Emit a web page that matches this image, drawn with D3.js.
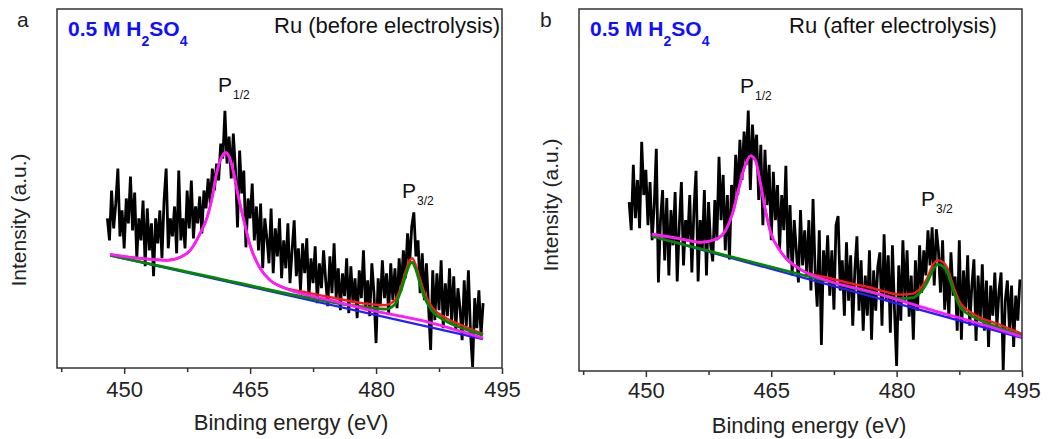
<!DOCTYPE html>
<html><head><meta charset="utf-8">
<script src="https://cdn.jsdelivr.net/npm/d3@7"></script>
<style>body{margin:0;background:#fff} svg{display:block;font-family:"Liberation Sans",Arial,sans-serif}</style>
</head><body><svg id="c" width="1048" height="439"></svg>
<script>
// ---------- data ----------
const xDomain = [442, 495];
const yDomain = [0, 360];
const xTicksMajor = [450, 465, 480, 495];
const xTicksMinor = [442.5, 457.5, 472.5, 487.5];
const xTitle = "Binding energy (eV)";
const yTitle = "Intensity (a.u.)";
const panelLetters = ["a", "b"];
const panelTitles = ["Ru (before electrolysis)", "Ru (after electrolysis)"];

// measured spectra (uniform 0.25 eV step)
const energyStartA = 448.0, energyStepA = 0.25;
const countsA = [
150,128,178,140, 165,200,132,158, 120,170,145,192, 138,176,110,150,
128,168,102,160, 118,145,92,150, 125,158,110,168, 200,120,150,132,
162,115,198,128, 150,120,178,140, 188,130,162,145, 172,135,178,160,
190,165,200,178, 205,188,225,210, 258,205,232,190, 235,200,141,218,
175,198,121,170, 150,185,128,162, 118,165,100,150, 130,105,160,95,
140,112,150,90, 128,100,145,85, 118,148,92,120, 78,125,95,130,
70,110,85,122, 65,105,80,118, 88,62,112,75, 125,70,100,58,
95,72,110,55, 102,65,90,50, 98,70,118,60, 88,52,105,75,
25,90,62,108, 70,95,55,105, 68,100,60,110, 78,118,90,135,
105,142,156,112, 128,75,115,68, 105,62,18,98, 48,95,58,108,
40,85,52,100, 45,92,38,80, 60,28,88,42, 98,35,1,70,
40,78,32,65];

const energyStartB = 448.0, energyStepB = 0.25;
const countsB = [
168,140,205,152, 190,142,228,175, 200,145,188,130, 165,221,88,150,
180,110,172,95, 160,125,178,89, 145,188,105,150, 130,175,98,160,
199,89,150,120, 180,95,168,125, 109,170,130,213, 150,195,120,175,
111,185,160,215, 175,230,190,238, 205,259,180,245, 210,235,170,225,
145,220,165,205, 130,198,150,185, 121,175,140,204, 110,165,95,150,
120,88,160,105, 140,95,150,80, 171,100,64,140, 26,120,90,135,
75,120,61,145, 154,80,110,55, 128,70,115,45, 100,134,60,110,
40,95,55,120, 31,100,60,104, 118,45,136,70, 115,38,125,60,
5,105,50,130, 70,120,54,95, 31,110,60,125, 78,120,95,140,
105,143,85,141, 120,78,130,61, 100,54,118,75, 94,40,130,31,
100,60,115,45, 85,111,30,95, 50,106,40,90, 24,85,55,98,
44,80,98,1, 70,90,41,85, 24,75,50,91];

// fitted curves (eV, intensity)
const bgA_E = [448.33, 492.74];
const bgA_V = [113, 29];
const p12A_E = [448.33,450.71,453.10,455.12,456.67,457.86,459.05,459.88,460.48,460.95,461.43,461.90,462.14,462.50,462.98,463.57,464.17,465.00,466.19,467.38,469.17,470.95,474.52,479.29,485.24,492.74];
const p12A_V = [114,111,109,108,111,118,135,151,171,193,208,215,216,212,198,173,151,123,100,88,80,75,68,58,48,30];
const p32A_E = [448.33,460.00,470.95,476.90,479.29,481.07,482.26,482.98,483.57,484.05,484.29,484.64,485.12,485.71,486.67,488.21,490.60,492.74];
const p32A_V = [113,92,72,63,60.5,59,64,78,94,104.5,106,101,88,72,57.5,47.6,39,33];
const envA_E = [448.33,450.71,453.10,455.12,456.67,457.86,459.05,459.88,460.48,460.95,461.43,461.90,462.14,462.50,462.98,463.57,464.17,465.00,466.19,467.38,469.17,470.95,474.52,479.29,481.07,482.26,482.98,483.57,484.05,484.29,484.64,485.12,485.71,486.67,488.21,490.60,492.74];
const envA_V = [114,111,109,108,111,118,135,151,171,193,208,215,216,212,198,173,151,123,100,88,80,77,71,64,63,68,81.6,98,108.5,110,105,92.5,76.5,61,50.6,41.5,34];

const bgB_E = [450.72, 494.99];
const bgB_V = [134, 33];
const p12B_E = [450.72,453.82,456.56,458.35,459.55,460.38,461.10,461.81,462.53,463.13,463.72,464.32,464.92,466.11,468.50,472.08,476.85,484.01,489.98,494.99];
const p12B_V = [136,132,128,131,140,157,181,203,214,209,186,159,138,119,101,89,79,61,47,34];
const p32B_E = [450.72,460.00,470.88,478.04,480.43,481.98,482.82,483.65,484.37,484.96,485.56,486.04,486.75,487.59,489.14,492.36,494.99];
const p32B_V = [134,114,91,76,72,73,78,88,101,106,104,99,81,64,54,43,35];
const envB_E = [450.72,453.82,456.56,458.35,459.55,460.38,461.10,461.81,462.53,463.13,463.72,464.32,464.92,466.11,468.50,472.08,476.85,480.43,481.98,482.82,483.65,484.37,484.96,485.56,486.04,486.75,487.59,489.14,492.36,494.99];
const envB_V = [136,132,128,131,140,157,181,203,214,209,186,159,138,119,101,92,83,76,77,82,92,106,110,108,103,85,68,57,46,37];

// ---------- drawing ----------
const svg = d3.select("#c");
const panels = [
  {left:57, right:502, top:9, bottom:368, E0:energyStartA, dE:energyStepA, counts:countsA,
   bg:[bgA_E,bgA_V], p12:[p12A_E,p12A_V], p32:[p32A_E,p32A_V], env:[envA_E,envA_V],
   letter:[17,27], title:[274,33], conc:[68,36], p12L:[218,92], p32L:[402,198],
   ylab:[26,220], tickY:29, xt:[291,430]},
  {left:579, right:1022, top:9, bottom:371, E0:energyStartB, dE:energyStepB, counts:countsB,
   bg:[bgB_E,bgB_V], p12:[p12B_E,p12B_V], p32:[p32B_E,p32B_V], env:[envB_E,envB_V],
   letter:[540,27], title:[789,33], conc:[590,36], p12L:[740,93], p32L:[921,206],
   ylab:[558,205], tickY:27, xt:[809,433]}
];

panels.forEach((p, i) => {
  const x = d3.scaleLinear().domain(xDomain).range([p.left, p.right]);
  const y = d3.scaleLinear().domain(yDomain).range([p.bottom, p.top]);
  const g = svg.append("g");

  const pts = p.counts.map((v, k) => [p.E0 + k * p.dE, v]);
  const line = d3.line().x(d => x(d[0])).y(d => y(d[1]));
  const sline = d3.line().x(d => x(d[0])).y(d => y(d[1])).curve(d3.curveMonotoneX);
  const zip = (a) => a[0].map((e, k) => [e, a[1][k]]);

  g.append("path").attr("d", line(pts)).attr("fill", "none")
    .attr("stroke", "#000").attr("stroke-width", 2.8).attr("stroke-linejoin", "miter").attr("stroke-miterlimit", 3);
  g.append("path").attr("d", sline(zip(p.bg))).attr("fill","none").attr("stroke","#1f1fff").attr("stroke-width",2.2);
  g.append("path").attr("d", sline(zip(p.env))).attr("fill","none").attr("stroke","#ff1a1a").attr("stroke-width",2.4);
  g.append("path").attr("d", sline(zip(p.p32))).attr("fill","none").attr("stroke","#008a00").attr("stroke-width",2.8);
  g.append("path").attr("d", sline(zip(p.p12))).attr("fill","none").attr("stroke","#ff1aff").attr("stroke-width",2.8);

  // frame
  g.append("rect").attr("x", p.left).attr("y", p.top)
    .attr("width", p.right - p.left).attr("height", p.bottom - p.top)
    .attr("fill", "none").attr("stroke", "#333").attr("stroke-width", 1.5);

  // axis ticks
  const ax = g.append("g").attr("transform", `translate(0,${p.bottom})`)
    .call(d3.axisBottom(x).tickValues(xTicksMajor).tickSize(6).tickFormat(d3.format("d")));
  ax.select(".domain").remove();
  ax.selectAll("line").attr("stroke", "#333").attr("stroke-width", 1.5);
  ax.selectAll("text").attr("y", p.tickY).attr("dy", 0)
    .attr("font-size", 22).attr("fill", "#222").attr("font-family", "Liberation Sans, Arial, sans-serif");
  const axm = g.append("g").attr("transform", `translate(0,${p.bottom})`)
    .call(d3.axisBottom(x).tickValues(xTicksMinor).tickSize(4).tickFormat(""));
  axm.select(".domain").remove();
  axm.selectAll("line").attr("stroke", "#333").attr("stroke-width", 1.5);

  // texts
  g.append("text").attr("x", p.xt[0]).attr("y", p.xt[1]).attr("text-anchor", "middle")
    .attr("font-size", 22).attr("fill", "#222").text(xTitle);
  g.append("text").attr("transform", `translate(${p.ylab[0]},${p.ylab[1]}) rotate(-90)`)
    .attr("text-anchor", "middle").attr("font-size", 21).attr("fill", "#222").text(yTitle);
  g.append("text").attr("x", p.letter[0]).attr("y", p.letter[1])
    .attr("font-size", 21).attr("fill", "#222").text(panelLetters[i]);
  g.append("text").attr("x", p.title[0]).attr("y", p.title[1])
    .attr("font-size", 22).attr("fill", "#111").text(panelTitles[i]);

  const c = g.append("text").attr("x", p.conc[0]).attr("y", p.conc[1])
    .attr("font-size", 21).attr("font-weight", "bold").attr("fill", "#1010ff");
  c.append("tspan").text("0.5 M H");
  c.append("tspan").attr("dy", 10).attr("font-size", 14).text("2");
  c.append("tspan").attr("dy", -10).text("SO");
  c.append("tspan").attr("dy", 10).attr("font-size", 14).text("4");

  const t1 = g.append("text").attr("x", p.p12L[0]).attr("y", p.p12L[1]).attr("font-size", 21).attr("fill", "#111");
  t1.append("tspan").text("P");
  t1.append("tspan").attr("dy", 7).attr("dx", 1).attr("font-size", 12).text("1/2");
  const t2 = g.append("text").attr("x", p.p32L[0]).attr("y", p.p32L[1]).attr("font-size", 21).attr("fill", "#111");
  t2.append("tspan").text("P");
  t2.append("tspan").attr("dy", 7).attr("dx", 1).attr("font-size", 12).text("3/2");
});
</script></body></html>
